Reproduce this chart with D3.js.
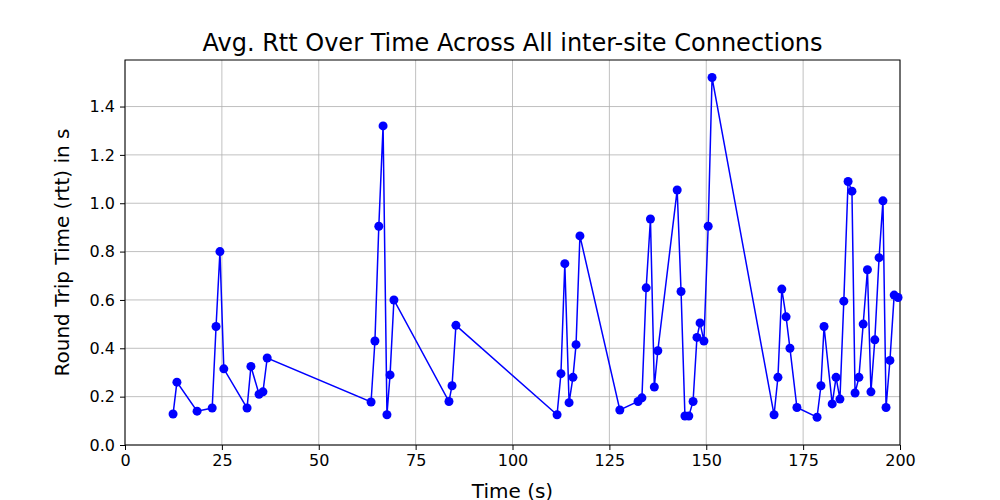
<!DOCTYPE html>
<html>
<head>
<meta charset="utf-8">
<script src="https://cdn.jsdelivr.net/npm/d3@7"></script>
<style>
  body { margin: 0; background: #fff; font-family: "DejaVu Sans", sans-serif; }
</style>
</head>
<body>
<svg id="chart" width="1000" height="500"></svg>
<script>
// time (s) and average rtt (s)
const times = [12.4, 13.4, 18.6, 22.5, 23.5, 24.5, 25.5, 31.5, 32.5, 34.6, 35.6, 36.7,
  63.5, 64.5, 65.5, 66.6, 67.6, 68.4, 69.4, 83.6, 84.4, 85.4,
  111.5, 112.5, 113.5, 114.6, 115.6, 116.4, 117.4, 127.7, 132.4, 133.4, 134.5, 135.6, 136.6, 137.5,
  142.5, 143.5, 144.5, 145.5, 146.6, 147.6, 148.4, 149.4, 150.5, 151.5,
  167.5, 168.5, 169.5, 170.6, 171.6, 173.4, 178.6, 179.6, 180.4, 182.5, 183.5, 184.5, 185.5,
  186.6, 187.6, 188.4, 189.4, 190.5, 191.6, 192.5, 193.5, 194.6, 195.6, 196.4, 197.4, 198.5, 199.5];
const rtts = [0.128, 0.26, 0.14, 0.153, 0.49, 0.80, 0.315, 0.153, 0.325, 0.21, 0.22, 0.36,
  0.178, 0.43, 0.905, 1.32, 0.125, 0.29, 0.60, 0.18, 0.245, 0.495,
  0.125, 0.295, 0.75, 0.175, 0.28, 0.415, 0.865, 0.145, 0.18, 0.195, 0.65, 0.935, 0.24, 0.39,
  1.055, 0.635, 0.12, 0.12, 0.18, 0.445, 0.505, 0.43, 0.905, 1.52,
  0.125, 0.28, 0.645, 0.53, 0.40, 0.155, 0.115, 0.245, 0.49, 0.17, 0.28, 0.19, 0.595,
  1.09, 1.05, 0.215, 0.28, 0.50, 0.725, 0.22, 0.435, 0.775, 1.01, 0.155, 0.35, 0.62, 0.61];
const xTicks = [0, 25, 50, 75, 100, 125, 150, 175, 200];
const yTicks = [0, 0.2, 0.4, 0.6, 0.8, 1.0, 1.2, 1.4];

const svg = d3.select("#chart");
const mLeft = 125, mRight = 900, mTop = 60, mBottom = 445;

const x = d3.scaleLinear().domain([0, 200]).range([mLeft, mRight]);
const y = d3.scaleLinear().domain([0, 1.5925]).range([mBottom, mTop]);

// grid
svg.append("g").selectAll("line").data(xTicks).join("line")
  .attr("x1", d => x(d)).attr("x2", d => x(d)).attr("y1", mTop).attr("y2", mBottom)
  .attr("stroke", "#b0b0b0").attr("stroke-width", 0.8);
svg.append("g").selectAll("line").data(yTicks).join("line")
  .attr("x1", mLeft).attr("x2", mRight).attr("y1", d => y(d)).attr("y2", d => y(d))
  .attr("stroke", "#b0b0b0").attr("stroke-width", 0.8);

// axes
const xAxis = svg.append("g").attr("transform", `translate(0,${mBottom})`)
  .call(d3.axisBottom(x).tickValues(xTicks).tickSize(5).tickPadding(5));
const yAxis = svg.append("g").attr("transform", `translate(${mLeft},0)`)
  .call(d3.axisLeft(y).tickValues(yTicks).tickFormat(d3.format(".1f")).tickSize(5).tickPadding(5));
[xAxis, yAxis].forEach(a => {
  a.selectAll("text").attr("font-size", 16).attr("fill", "#000").attr("font-family", "DejaVu Sans");
  a.select(".domain").remove();
});

// frame
svg.append("rect").attr("x", mLeft).attr("y", mTop).attr("width", mRight - mLeft).attr("height", mBottom - mTop)
  .attr("fill", "none").attr("stroke", "#000").attr("stroke-width", 1);

// series
const pts = times.map((t, i) => [t, rtts[i]]);
svg.append("path").datum(pts)
  .attr("d", d3.line().x(d => x(d[0])).y(d => y(d[1])))
  .attr("fill", "none").attr("stroke", "#0000ff").attr("stroke-width", 1.5);
svg.append("g").selectAll("circle").data(pts).join("circle")
  .attr("cx", d => x(d[0])).attr("cy", d => y(d[1])).attr("r", 4.5).attr("fill", "#0000ff");

// labels
svg.append("text").attr("x", (mLeft + mRight) / 2).attr("y", 51).attr("text-anchor", "middle")
  .attr("font-size", 24).text("Avg. Rtt Over Time Across All inter-site Connections");
svg.append("text").attr("x", (mLeft + mRight) / 2).attr("y", 498).attr("text-anchor", "middle")
  .attr("font-size", 20).text("Time (s)");
svg.append("text").attr("transform", `translate(69,${(mTop + mBottom) / 2}) rotate(-90)`)
  .attr("text-anchor", "middle").attr("font-size", 20).text("Round Trip Time (rtt) in s");
</script>
</body>
</html>
